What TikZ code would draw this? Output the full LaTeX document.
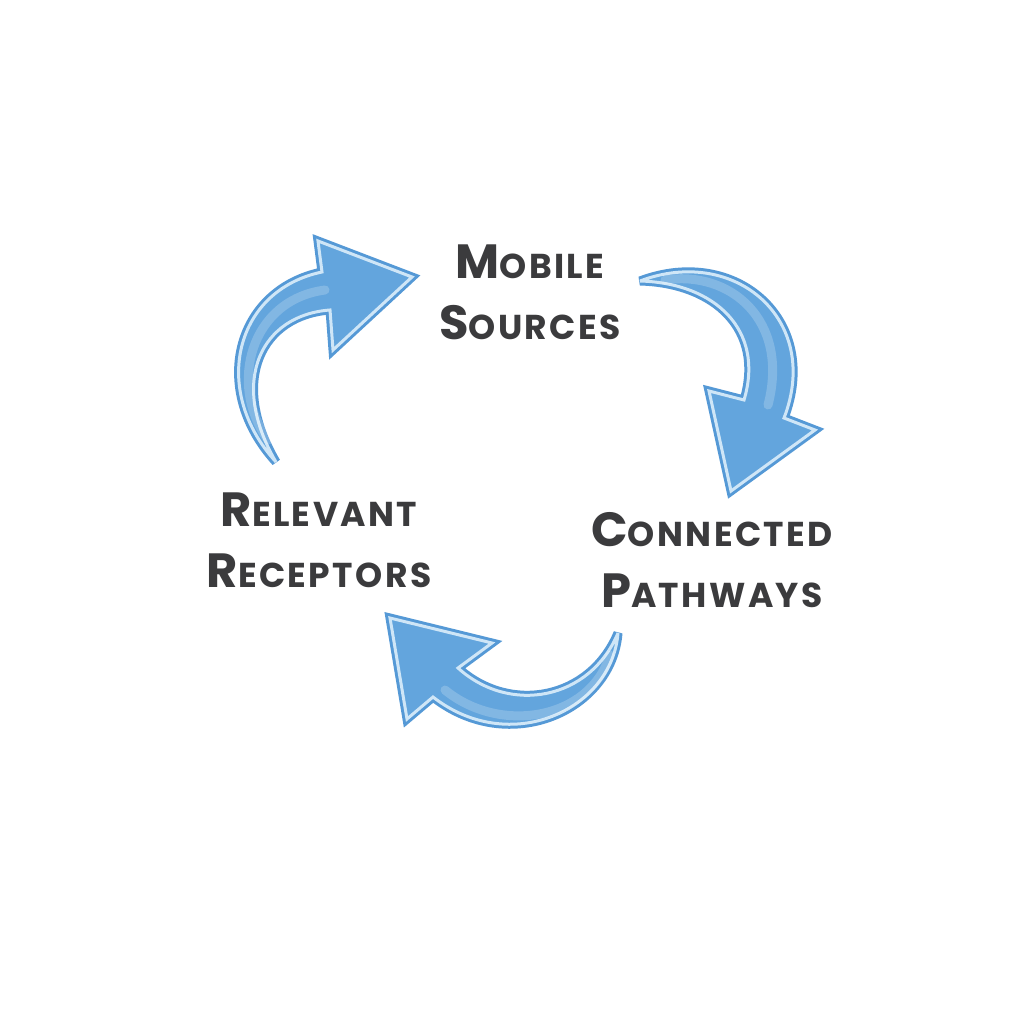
\documentclass[tikz,border=0pt]{standalone}
\usepackage{fontspec}
\newfontfamily\labelfont{Poppins}[LetterSpace=7]
\definecolor{arrowblue}{HTML}{5599D6}
\definecolor{arrowfill}{HTML}{63A5DD}
\definecolor{arrowband}{HTML}{CFE6F7}
\definecolor{labelgray}{HTML}{3B3B3D}
\newcommand{\capsword}[2]{{\fontsize{48}{61}\selectfont #1}{\fontsize{34.5}{61}\selectfont #2}}
\tikzset{
	arrowbody/.style={fill=arrowblue, draw=arrowblue, line width=9pt, line join=miter, miter limit=4},
	arrowband/.style={fill=arrowfill, draw=arrowband, line width=3pt, line join=miter, miter limit=4},
	glint/.style={draw=white, opacity=0.2, line width=9pt, line cap=round},
	labeltext/.style={text=labelgray, align=center, inner sep=0pt,
		font=\labelfont\bfseries\fontsize{48}{61}\selectfont}
}
\begin{document}
\begin{tikzpicture}[x=1pt, y=-1pt, line cap=round, line join=round]
	\useasboundingbox[fill=white] (0,0) rectangle (1024,1024);
	% arrow outlines, pixel coordinates of the reference
	\def\arrowA{(276,462) .. controls (210,390) and (235,290) .. (322,272) -- (318,241) -- (412,277) -- (333,350) -- (330,310) .. controls (262,315) and (228,380) .. (276,462) -- cycle}
	\def\arrowB{(640,281) .. controls (735,245) and (822,320) .. (784,418) -- (815,430) -- (731,491) -- (709,391) -- (744,400) .. controls (765,330) and (715,283) .. (640,281) -- cycle}
	\def\arrowC{(618,633) .. controls (612,710) and (510,757) .. (433,697) -- (407,719) -- (390,618) -- (492,643) -- (458,668) .. controls (510,715) and (590,700) .. (618,633) -- cycle}
	\foreach \p in {\arrowA,\arrowB,\arrowC} {
		\draw[arrowbody] \p;
		\draw[arrowband] \p;
	}
	\draw[glint] (268,440) .. controls (228,385) and (250,300) .. (325,290);
	\draw[glint] (665,280) .. controls (730,270) and (790,320) .. (768,405);
	\draw[glint] (445,690) .. controls (500,735) and (590,720) .. (610,655);
	% labels
	\node[labeltext] (mobile) at (530,292) {\capsword{M}{OBILE}\\\capsword{S}{OURCES}};
	\node[labeltext] (pathways) at (712,560) {\capsword{C}{ONNECTED}\\\capsword{P}{ATHWAYS}};
	\node[labeltext] (receptors) at (319,540) {\capsword{R}{ELEVANT}\\\capsword{R}{ECEPTORS}};
\end{tikzpicture}
\end{document}
